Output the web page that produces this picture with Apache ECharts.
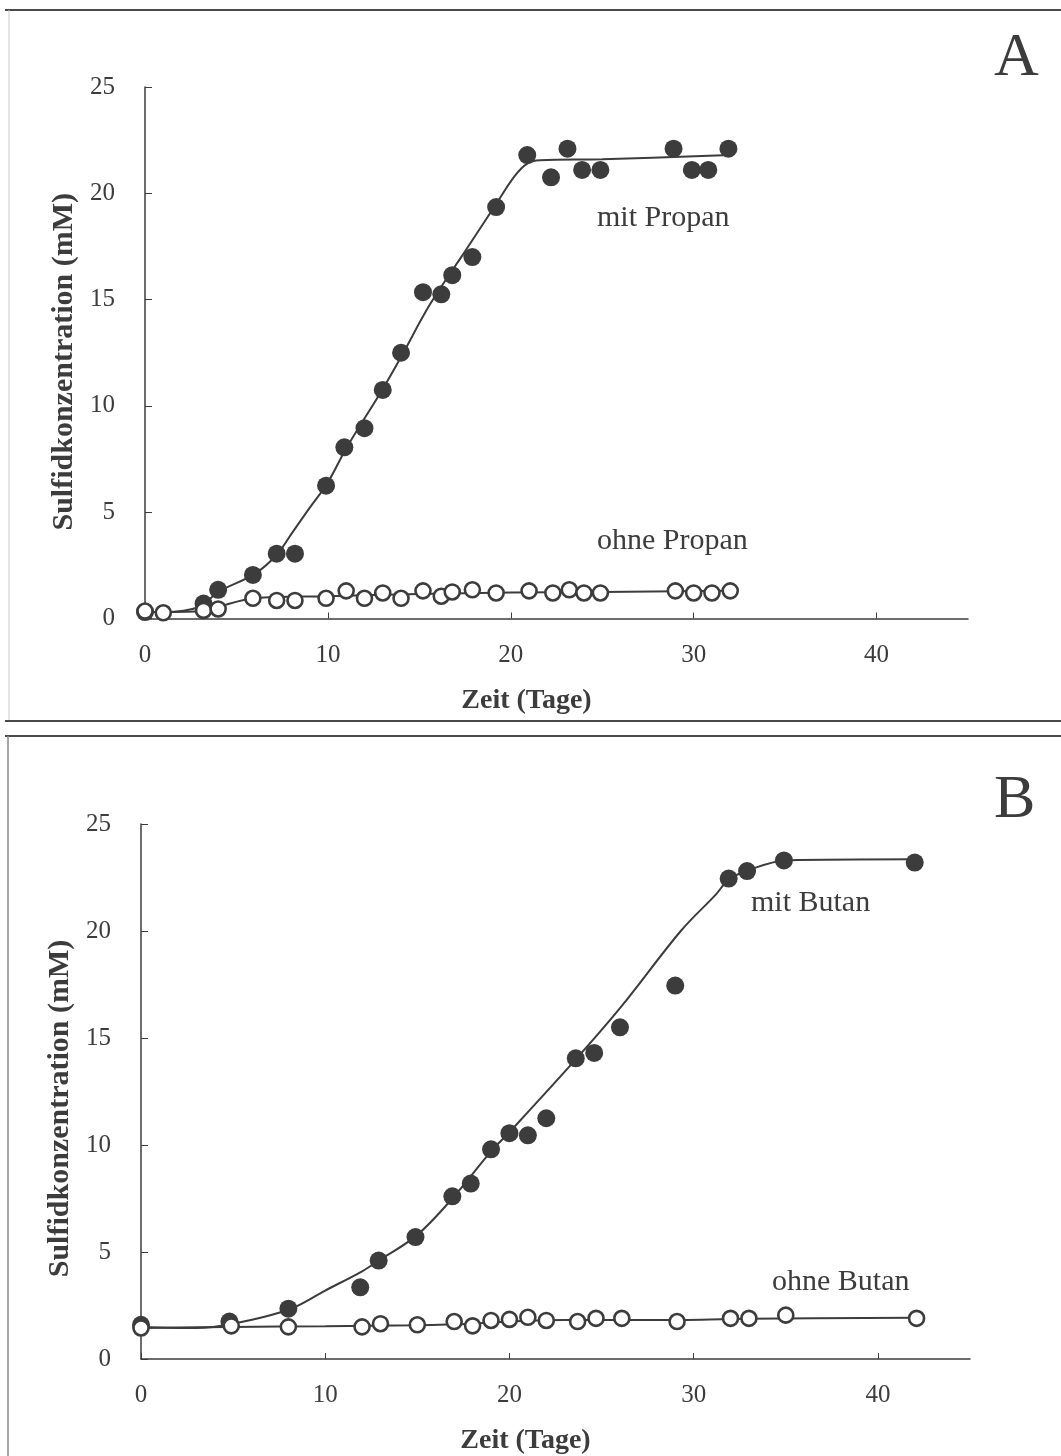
<!DOCTYPE html>
<html>
<head>
<meta charset="utf-8">
<script src="https://cdn.jsdelivr.net/npm/echarts@6.0.0/dist/echarts.min.js"></script>
<style>
    html, body { margin: 0; padding: 0; background: #fff; }
    #chart { width: 1061px; height: 1456px; }
</style>
</head>
<body>
<div id="chart"></div>
<script>
// --- Panel A: mit / ohne Propan ---
const propanDays = [0, 3.2, 4.0, 5.9, 7.2, 8.2, 9.9, 10.9, 12.0, 13.0, 14.0, 15.2, 16.2, 16.8, 17.9, 19.2, 20.9, 22.2, 23.1, 23.9, 24.9, 28.9, 29.9, 30.8, 31.9];
const propanSulfid = [0.3, 0.7, 1.35, 2.05, 3.05, 3.05, 6.25, 8.05, 8.95, 10.75, 12.5, 15.35, 15.25, 16.15, 17.0, 19.35, 21.8, 20.75, 22.1, 21.1, 21.1, 22.1, 21.1, 21.1, 22.1];
const ohnePropanDays = [0, 1.0, 3.2, 4.0, 5.9, 7.2, 8.2, 9.9, 11.0, 12.0, 13.0, 14.0, 15.2, 16.2, 16.8, 17.9, 19.2, 21.0, 22.3, 23.2, 24.0, 24.9, 29.0, 30.0, 31.0, 32.0];
const ohnePropanSulfid = [0.35, 0.27, 0.38, 0.45, 0.95, 0.85, 0.85, 0.95, 1.3, 0.95, 1.2, 0.95, 1.3, 1.05, 1.25, 1.35, 1.2, 1.3, 1.2, 1.35, 1.2, 1.2, 1.3, 1.2, 1.2, 1.3];
// Ausgleichskurven
const propanFitDays = [0, 1, 3, 4, 6, 7.2, 8.1, 9, 10, 11, 13, 14, 15.6, 17.6, 19.2, 20.2, 20.9, 21.6, 25, 32];
const propanFitSulfid = [0.3, 0.3, 0.55, 1.25, 2.1, 3.0, 4.1, 5.2, 6.4, 8.0, 10.8, 12.3, 14.8, 17.4, 19.5, 20.8, 21.4, 21.55, 21.6, 21.8];
const ohnePropanFitDays = [0, 1, 3.2, 4, 6, 10, 15, 20, 25, 32];
const ohnePropanFitSulfid = [0.3, 0.3, 0.35, 0.55, 0.95, 1.05, 1.15, 1.22, 1.25, 1.3];

// --- Panel B: mit / ohne Butan ---
const butanDays = [0, 4.8, 8.0, 11.9, 12.9, 14.9, 16.9, 17.9, 19.0, 20.0, 21.0, 22.0, 23.6, 24.6, 26.0, 29.0, 31.9, 32.9, 34.9, 42.0];
const butanSulfid = [1.6, 1.75, 2.35, 3.35, 4.6, 5.7, 7.6, 8.2, 9.8, 10.55, 10.45, 11.25, 14.05, 14.3, 15.5, 17.45, 22.45, 22.8, 23.3, 23.2];
const ohneButanDays = [0, 4.9, 8.0, 12.0, 13.0, 15.0, 17.0, 18.0, 19.0, 20.0, 21.0, 22.0, 23.7, 24.7, 26.1, 29.1, 32.0, 33.0, 35.0, 42.1];
const ohneButanSulfid = [1.45, 1.55, 1.5, 1.5, 1.65, 1.6, 1.75, 1.55, 1.8, 1.85, 1.95, 1.8, 1.75, 1.9, 1.9, 1.75, 1.9, 1.9, 2.05, 1.9];
const butanFitDays = [0, 3, 5, 8, 10, 12, 13, 15, 17, 19, 20, 23.6, 26.1, 29.3, 31.2, 31.9, 33, 35, 42];
const butanFitSulfid = [1.5, 1.45, 1.65, 2.3, 3.2, 4.1, 4.65, 5.8, 7.6, 9.7, 10.6, 14.0, 16.5, 20.0, 21.7, 22.4, 22.85, 23.3, 23.35];
const ohneButanFitDays = [0, 5, 10, 15, 18, 20, 23, 28, 33, 42];
const ohneButanFitSulfid = [1.45, 1.5, 1.53, 1.58, 1.65, 1.75, 1.82, 1.82, 1.88, 1.93];

// Achsenbeschriftung
const dayTicks = [0, 10, 20, 30, 40];
const sulfidTicks = [0, 5, 10, 15, 20, 25];

const zip = (xs, ys) => xs.map((x, i) => [x, ys[i]]);
const ink = '#3c3c3c';
const serif = '"Liberation Serif", "DejaVu Serif", serif';

function xAxisFor(gridIndex) {
    return {
        type: 'value',
        gridIndex: gridIndex,
        min: 0,
        max: 45,
        interval: 10,
        name: 'Zeit (Tage)',
        nameLocation: 'middle',
        nameGap: 68,
        nameTextStyle: { fontFamily: serif, fontWeight: 'bold', fontSize: 28, color: ink, padding: [0, 60, 0, 0] },
        axisLine: { lineStyle: { color: ink, width: 1.5 } },
        axisTick: { inside: true, length: 6, lineStyle: { color: ink }, customValues: dayTicks },
        axisLabel: { margin: 24, fontFamily: serif, fontSize: 25, color: ink, customValues: dayTicks },
        splitLine: { show: false },
    };
}

function yAxisFor(gridIndex, gap, shift) {
    return {
        type: 'value',
        gridIndex: gridIndex,
        min: 0,
        max: 25,
        interval: 5,
        name: 'Sulfidkonzentration (mM)',
        nameLocation: 'middle',
        nameGap: gap,
        nameTextStyle: { fontFamily: serif, fontWeight: 'bold', fontSize: 30, color: ink, padding: [0, shift, 0, 0] },
        axisLine: { lineStyle: { color: ink, width: 1.5 } },
        axisTick: { inside: true, length: 7, lineStyle: { color: ink }, customValues: sulfidTicks },
        axisLabel: { margin: 30, fontFamily: serif, fontSize: 25, color: ink, customValues: sulfidTicks },
        splitLine: { show: false },
    };
}

function fitLine(idx, data) {
    return {
        type: 'line', xAxisIndex: idx, yAxisIndex: idx, data: data,
        smooth: 0.35, showSymbol: false, symbol: 'none',
        lineStyle: { color: ink, width: 2 }, silent: true, z: 2,
    };
}
function filledDots(idx, data) {
    return {
        type: 'scatter', xAxisIndex: idx, yAxisIndex: idx, data: data,
        symbol: 'circle', symbolSize: 18,
        itemStyle: { color: ink, opacity: 1 }, z: 3,
    };
}
function openDots(idx, data) {
    return {
        type: 'scatter', xAxisIndex: idx, yAxisIndex: idx, data: data,
        symbol: 'circle', symbolSize: 15,
        itemStyle: { color: '#fff', borderColor: ink, borderWidth: 2.6, opacity: 1 }, z: 5,
    };
}

function label(text, left, top, size) {
    return { type: 'text', left: left, top: top, style: { text: text, fontFamily: serif, fontSize: size, fill: ink } };
}
function rule(x1, y1, x2, y2, color, width) {
    return { type: 'line', shape: { x1: x1, y1: y1, x2: x2, y2: y2 }, style: { stroke: color, lineWidth: width }, silent: true };
}

const myChart = echarts.init(document.getElementById('chart'), null, { renderer: 'canvas' });
const chartOption = {
    backgroundColor: '#fff',
    animation: false,
    grid: [
        { left: 145, top: 87, width: 823, height: 531.5 },
        { left: 141, top: 824, width: 829, height: 537.5 },
    ],
    xAxis: [xAxisFor(0), xAxisFor(1)],
    yAxis: [yAxisFor(0, 55, 18), yAxisFor(1, 58, 34)],
    graphic: [
        // Rahmen
        rule(5, 10, 1061, 10, '#4a4a4a', 2),
        rule(9, 10, 9, 721, '#c8c8c8', 1),
        rule(5, 721, 1061, 721, '#4a4a4a', 2),
        rule(5, 736, 1061, 736, '#4a4a4a', 2),
        rule(8, 736, 8, 1456, '#8a8a8a', 1.5),
        // Beschriftungen
        label('A', 994, 28, 62),
        label('B', 994, 770, 62),
        label('mit Propan', 597, 203, 30),
        label('ohne Propan', 597, 526, 30),
        label('mit Butan', 751, 888, 30),
        label('ohne Butan', 772, 1267, 30),
    ],
    series: [
        fitLine(0, zip(propanFitDays, propanFitSulfid)),
        fitLine(0, zip(ohnePropanFitDays, ohnePropanFitSulfid)),
        filledDots(0, zip(propanDays, propanSulfid)),
        openDots(0, zip(ohnePropanDays, ohnePropanSulfid)),
        fitLine(1, zip(butanFitDays, butanFitSulfid)),
        fitLine(1, zip(ohneButanFitDays, ohneButanFitSulfid)),
        filledDots(1, zip(butanDays, butanSulfid)),
        openDots(1, zip(ohneButanDays, ohneButanSulfid)),
    ],
};
myChart.setOption(chartOption);
</script>
</body>
</html>
